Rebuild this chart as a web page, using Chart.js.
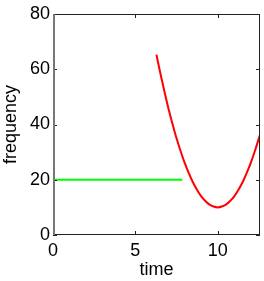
<!DOCTYPE html>
<html><head><meta charset="utf-8">
<script src="https://cdn.jsdelivr.net/npm/chart.js@4/dist/chart.umd.min.js"></script>
<style>html,body{margin:0;padding:0;background:#fff}#w{width:264px;height:281px}</style>
</head><body><div id="w"><canvas id="c"></canvas></div>
<script>
const greenX = [0, 7.85];
const greenY = [20, 20];
const redX = [6.28, 6.5, 6.75, 7, 7.25, 7.5, 7.75, 8, 8.25, 8.5, 8.75, 9, 9.25, 9.5, 9.75, 10, 10.25, 10.5, 10.75, 11, 11.25, 11.5, 11.75, 12, 12.25, 12.57];
const redY = [65.3, 59, 52.3, 46, 40.3, 35, 30.3, 26, 22.3, 19, 16.3, 14, 12.3, 11, 10.3, 10, 10.3, 11, 12.3, 14, 16.3, 19, 22.3, 26, 30.3, 36.4];
const xTicks = [0, 5, 10];
const yTicks = [0, 20, 40, 60, 80];
const xMax = 12.566;

const font = {family: '"Liberation Sans", Arial, sans-serif', size: 18};

const frame = {
  id: 'frame',
  afterDraw(chart) {
    const {ctx, chartArea: a, scales: {x, y}} = chart;
    ctx.save();
    ctx.strokeStyle = '#222';
    ctx.lineWidth = 1;
    ctx.strokeRect(a.left + 0.5, a.top + 0.5, a.right - a.left - 1, a.bottom - a.top - 1);
    ctx.beginPath();
    const L = 4;
    xTicks.forEach(v => {
      const px = Math.round(x.getPixelForValue(v)) + 0.5;
      ctx.moveTo(px, a.bottom); ctx.lineTo(px, a.bottom - L);
      ctx.moveTo(px, a.top); ctx.lineTo(px, a.top + L);
    });
    yTicks.forEach(v => {
      const py = Math.round(y.getPixelForValue(v)) + 0.5;
      ctx.moveTo(a.left, py); ctx.lineTo(a.left + L, py);
      ctx.moveTo(a.right, py); ctx.lineTo(a.right - L, py);
    });
    ctx.stroke();
    ctx.strokeStyle = '#777';
    ctx.lineWidth = 2;
    ctx.beginPath();
    ctx.moveTo(a.left + 1, a.top); ctx.lineTo(a.left + 1, a.bottom);
    ctx.stroke();
    ctx.restore();
  }
};

new Chart(document.getElementById('c'), {
  type: 'scatter',
  data: {
    datasets: [
      {data: greenX.map((v, i) => ({x: v, y: greenY[i]})), showLine: true, borderColor: '#00ff00', borderWidth: 2, pointRadius: 0},
      {data: redX.map((v, i) => ({x: v, y: redY[i]})), showLine: true, borderColor: '#ff0000', borderWidth: 2, pointRadius: 0, cubicInterpolationMode: 'monotone'}
    ]
  },
  options: {
    responsive: true, maintainAspectRatio: false, animation: false,
    layout: {padding: {top: 14, right: 4, left: 0, bottom: 0}},
    plugins: {legend: {display: false}, tooltip: {enabled: false}},
    scales: {
      x: {
        type: 'linear', min: 0, max: xMax,
        afterBuildTicks(s) { s.ticks = xTicks.map(v => ({value: v})); },
        afterFit(s) { s.height = 46; },
        grid: {display: false, drawTicks: false},
        border: {display: false},
        ticks: {color: '#000', font, padding: 5, maxRotation: 0},
        title: {display: true, text: 'time', color: '#000', font, padding: {top: 0, bottom: 0}}
      },
      y: {
        type: 'linear', min: 0, max: 80,
        afterBuildTicks(s) { s.ticks = yTicks.map(v => ({value: v})); },
        afterFit(s) { s.width = 53; },
        grid: {display: false, drawTicks: false},
        border: {display: false},
        ticks: {color: '#000', font, padding: 3},
        title: {display: true, text: 'frequency', color: '#000', font, padding: {top: 0, bottom: 0}}
      }
    }
  },
  plugins: [frame]
});
</script></body></html>
